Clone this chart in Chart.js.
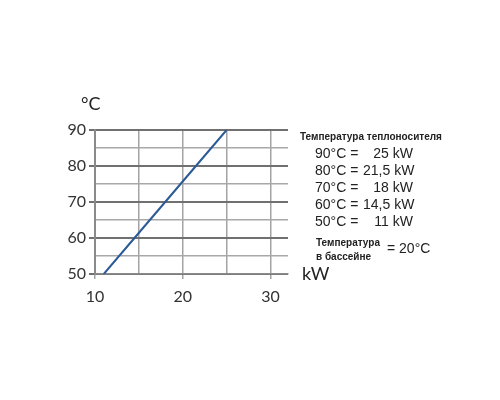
<!DOCTYPE html>
<html>
<head>
<meta charset="utf-8">
<script src="https://cdn.jsdelivr.net/npm/chart.js@4"></script>
<style>
  body { margin: 0; background: #fff; }
  #wrap { position: relative; width: 500px; height: 400px; }
  #c { position: absolute; left: 0; top: 0; }
  .t { position: absolute; color: #222; white-space: nowrap; }
  .unit { font-family: Lato, "Open Sans", sans-serif; font-size: 18px; }
  .head { font-family: "Liberation Sans", Arial, sans-serif; font-weight: bold; font-size: 10px; }
  .row { font-family: "Liberation Sans", Arial, sans-serif; font-size: 14px; line-height: 17px; }
  .row span { display: inline-block; }
  .row .l { width: 48px; }
  .row .r { width: 50px; text-align: right; }
</style>
</head>
<body>
<div id="wrap">
  <canvas id="c" width="500" height="400"></canvas>
  <div class="t unit" style="left:81px; top:92px;">°C</div>
  <div class="t unit" style="left:302px; top:262px;">kW</div>
  <div class="t head" style="left:300px; top:131px;">Температура теплоносителя</div>
  <div id="rows" class="t" style="left:315px; top:145px;"></div>
  <div class="t head" style="left:316px; top:236px; line-height:14px;">Температура<br>в бассейне</div>
  <div class="t row" style="left:387px; top:240px;">= 20°C</div>
</div>
<script>
// supply temperature (°C) vs heat output (kW)
const temps = [50, 60, 70, 80, 90];
const power = [11, 14.5, 18, 21.5, 25];
const powerText = ['11', '14,5', '18', '21,5', '25'];
const xTicks = [10, 20, 30];
const yTicks = [50, 60, 70, 80, 90];

// legend rows, top to bottom = hottest first
let rowsHtml = '';
for (let i = temps.length - 1; i >= 0; i--) {
    rowsHtml += '<div class="row"><span class="l">' + temps[i] + '°C =</span><span class="r">' + powerText[i] + ' kW</span></div>';
}
document.getElementById('rows').innerHTML = rowsHtml;

let ctx = document.getElementById('c').getContext('2d');
let chart = new Chart(ctx, {
    type: 'scatter',
    data: {
        datasets: [{
            data: power.map((p, i) => ({ x: p, y: temps[i] })),
            showLine: true,
            borderColor: '#2c5a97',
            borderWidth: 2,
            pointRadius: 0,
            tension: 0
        }]
    },
    options: {
        responsive: false,
        animation: false,
        layout: { padding: { top: 130, right: 212, left: 0, bottom: 0 } },
        plugins: { legend: { display: false }, tooltip: { enabled: false } },
        scales: {
            x: {
                type: 'linear',
                min: 10,
                max: 32,
                afterFit: s => { s.height = 126; },
                afterBuildTicks: s => {
                    s.ticks = [10, 15, 20, 25, 30].map(v => ({ value: v }));
                },
                ticks: {
                    autoSkip: false,
                    maxRotation: 0,
                    color: '#333',
                    font: { family: 'Lato', size: 16 },
                    padding: 8,
                    callback: v => xTicks.includes(v) ? v : ''
                },
                grid: {
                    color: '#a3a3a3',
                    lineWidth: 1.5,
                    tickLength: 5,
                    tickColor: c => xTicks.includes(c.tick.value) ? '#a3a3a3' : 'rgba(0,0,0,0)'
                },
                border: { color: '#8a8a8a', width: 1.5 }
            },
            y: {
                type: 'linear',
                min: 50,
                max: 90,
                afterFit: s => { s.width = 95; },
                afterBuildTicks: s => {
                    s.ticks = [50, 55, 60, 65, 70, 75, 80, 85, 90].map(v => ({ value: v }));
                },
                ticks: {
                    autoSkip: false,
                    color: '#333',
                    font: { family: 'Lato', size: 16 },
                    padding: 3,
                    callback: v => yTicks.includes(v) ? v : ''
                },
                grid: {
                    color: c => yTicks.includes(c.tick.value) ? '#707070' : '#a8a8a8',
                    lineWidth: c => yTicks.includes(c.tick.value) ? 2 : 1.5,
                    tickLength: 6,
                    tickColor: c => yTicks.includes(c.tick.value) ? '#707070' : 'rgba(0,0,0,0)'
                },
                border: { color: '#8a8a8a', width: 2 }
            }
        }
    }
});
</script>
</body>
</html>
